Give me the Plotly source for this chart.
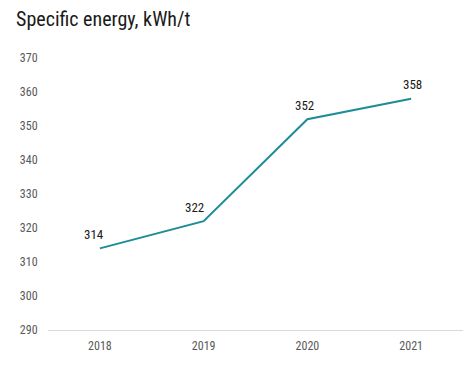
import plotly.graph_objects as go

years = ["2018", "2019", "2020", "2021"]
energy = [314, 322, 352, 358]
y_ticks = [290, 300, 310, 320, 330, 340, 350, 360, 370]
label_dx = [-6, -9, -3, 1]

FONT = "Roboto Condensed, Liberation Sans Narrow, Arial Narrow, sans-serif"

fig = go.Figure(go.Scatter(
    x=years, y=energy, mode="lines",
    line=dict(color="#1d8c96", width=2),
    showlegend=False, hoverinfo="x+y",
))

for i, (v, dx) in enumerate(zip(energy, label_dx)):
    fig.add_annotation(x=i, y=v, xref="x", yref="y", text=str(v),
                       showarrow=False, xshift=dx, yshift=14,
                       font=dict(family=FONT, size=13, color="#1a1a1a"))

fig.update_layout(
    width=473, height=368,
    margin=dict(l=38, r=18, t=50, b=46),
    paper_bgcolor="white", plot_bgcolor="white",
    title=dict(text="Specific energy, kWh/t", x=0.017, xanchor="left",
               y=0.988, yanchor="top", pad=dict(t=0, b=0, l=0, r=0),
               font=dict(family=FONT, size=20, color="#1a1a1a")),
    xaxis=dict(type="category", range=[-0.5, 3.5], showgrid=False,
               showline=True, linecolor="#d9d9d9", linewidth=1,
               ticks="outside", ticklen=5, tickcolor="rgba(0,0,0,0)",
               tickfont=dict(family=FONT, size=12, color="#595959")),
    yaxis=dict(range=[290, 370], tickvals=y_ticks, showgrid=False,
               zeroline=False, showline=False,
               ticks="outside", ticklen=7, tickcolor="rgba(0,0,0,0)",
               tickfont=dict(family=FONT, size=12, color="#595959")),
)

fig.write_html("out.html")
